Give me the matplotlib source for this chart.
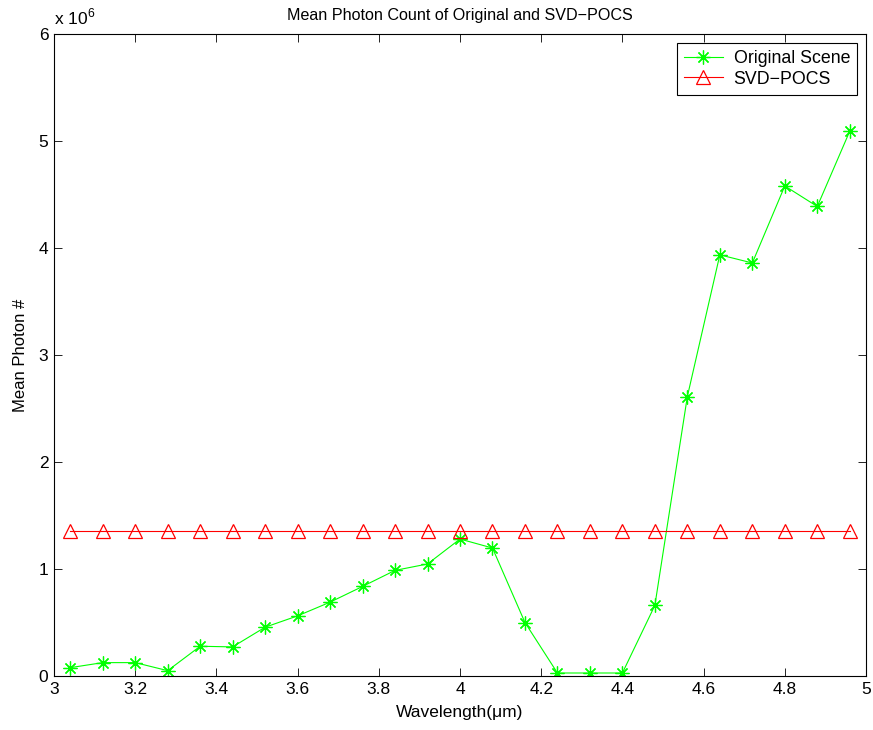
import matplotlib
matplotlib.use("Agg")
import matplotlib.pyplot as plt
import numpy as np

plt.rcParams['font.family'] = ['Liberation Sans', 'DejaVu Sans']
plt.rcParams['mathtext.fontset'] = 'custom'
plt.rcParams['mathtext.rm'] = 'Liberation Sans'

wavelength = [3.04, 3.12, 3.20, 3.28, 3.36, 3.44, 3.52, 3.60, 3.68, 3.76, 3.84, 3.92,
              4.00, 4.08, 4.16, 4.24, 4.32, 4.40, 4.48, 4.56, 4.64, 4.72, 4.80, 4.88, 4.96]
original = [0.078, 0.125, 0.125, 0.05, 0.278, 0.272, 0.456, 0.562, 0.69, 0.837, 0.987, 1.047,
            1.28, 1.196, 0.50, 0.028, 0.028, 0.028, 0.66, 2.612, 3.936, 3.86, 4.58, 4.388, 5.092]
svd_pocs = [1.353] * len(wavelength)
scale = 1e6
xticks = [3, 3.2, 3.4, 3.6, 3.8, 4, 4.2, 4.4, 4.6, 4.8, 5]
xticklabels = ['3', '3.2', '3.4', '3.6', '3.8', '4', '4.2', '4.4', '4.6', '4.8', '5']
yticks = [0, 1, 2, 3, 4, 5, 6]

fig = plt.figure(figsize=(8.73, 7.30), dpi=100)
ax = fig.add_axes([54/873, 54/730, (866-54)/873, (676-34)/730])

ax.plot(wavelength, np.array(original) * scale, color='#00ff00', marker=(8, 2, 0), markersize=10,
        linewidth=0.8, markeredgewidth=0.9, label='Original Scene')
ax.plot(wavelength, np.array(svd_pocs) * scale, color='#ff0000', marker='^', markersize=9.5,
        markerfacecolor='none', linewidth=0.8, markeredgewidth=0.9, label='SVD\u2212POCS')

ax.set_xlim(3, 5)
ax.set_ylim(0, 6 * scale)
ax.set_xticks(xticks)
ax.set_xticklabels(xticklabels)
ax.set_yticks([v * scale for v in yticks])
ax.set_yticklabels([str(v) for v in yticks])
ax.tick_params(direction='in', top=True, right=True, labelsize=12.5, length=6, width=0.6, pad=4)
for s in ax.spines.values():
    s.set_linewidth(0.8)

ax.set_title('Mean Photon Count of Original and SVD\u2212POCS', fontsize=11.6, pad=10)
ax.set_xlabel('Wavelength(\u03bcm)', fontsize=12.5, labelpad=6)
ax.set_ylabel('Mean Photon #', fontsize=12, labelpad=8)
ax.text(0.0, 1.01, r'x 10$^{6}$', transform=ax.transAxes, fontsize=12.5, ha='left', va='bottom')

leg = ax.legend(loc='upper right', fontsize=12.8, fancybox=False, framealpha=1,
                edgecolor='black', borderaxespad=0.5, handlelength=2.2,
                borderpad=0.4, labelspacing=0.2, handletextpad=0.6)
leg.get_frame().set_linewidth(0.8)

fig.savefig('out.png', dpi=100)
